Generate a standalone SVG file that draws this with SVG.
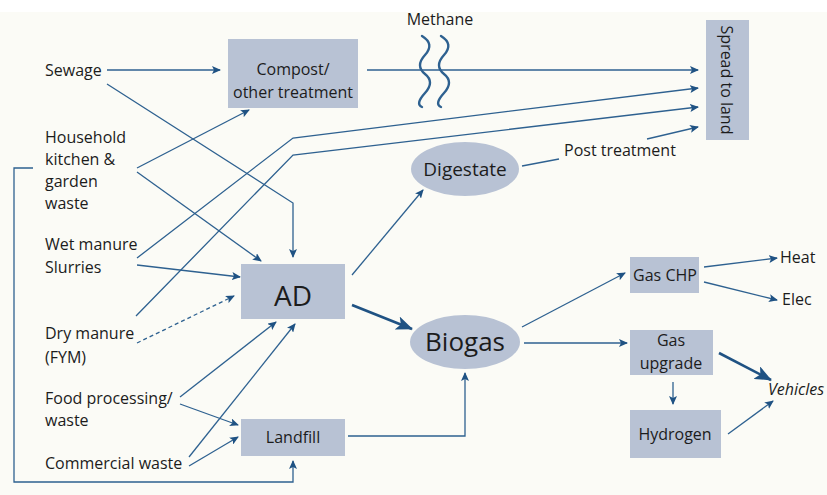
<svg xmlns="http://www.w3.org/2000/svg" width="827" height="495" viewBox="0 0 827 495">
<style>
text{font-family:"Open Sans","Noto Sans","Liberation Sans",sans-serif;fill:#1c1c1c;}
.t{font-size:16px;}
.box{fill:#b8c2d4;}
.ln{fill:none;stroke:#2e6190;stroke-width:1.3;}
.arr{marker-end:url(#ah);}
.thick{fill:none;stroke:#1f5283;stroke-width:2.6;marker-end:url(#big);}
.sq{fill:none;stroke:#2e6190;stroke-width:2.4;stroke-linecap:round;}
</style>
<defs>
<marker id="ah" markerUnits="userSpaceOnUse" markerWidth="10" markerHeight="8" refX="8" refY="4" orient="auto">
<path d="M0,0 L9,4 L0,8 L2,4 Z" fill="#1f5283"/>
</marker>
<marker id="big" markerUnits="userSpaceOnUse" markerWidth="18" markerHeight="14" refX="16" refY="7" orient="auto">
<path d="M0,0 L17,7 L0,14 L4,7 Z" fill="#1f5283"/>
</marker>
</defs>
<rect x="0" y="0" width="827" height="495" fill="#ffffff"/>
<rect x="0" y="12" width="827" height="483" fill="#fbfbf6"/>

<g id="connectors">
<path class="ln arr" d="M107,70 L220,70"/>
<path class="ln arr" d="M107,84 L293,203 L293,257"/>
<path class="ln arr" d="M137,168 L249,110"/>
<path class="ln arr" d="M137,172 L261,261"/>
<path class="ln arr" d="M137,258 L293,138 L698,88"/>
<path class="ln arr" d="M137,265 L240,277"/>
<path class="ln arr" d="M136,316 L293,155 L698,107"/>
<path class="ln arr" d="M137,343 L234,296" stroke-dasharray="4,3"/>
<path class="ln arr" d="M180,397 L276,322"/>
<path class="ln arr" d="M180,404 L238,425"/>
<path class="ln arr" d="M189,457 L295,324"/>
<path class="ln arr" d="M189,466 L238,437"/>
<path class="ln arr" d="M33,168 L14,168 L14,482 L293,482 L293,461"/>
<path class="ln arr" d="M367,70 L698,70"/>
<path class="ln arr" d="M352,275 L423,190"/>
<path class="thick" d="M352,305 L412,329"/>
<path class="ln arr" d="M348,436 L465,436 L465,373"/>
<path class="ln" d="M522,166 L559,159"/>
<path class="ln arr" d="M647,139 L698,127"/>
<path class="ln arr" d="M522,327 L625,273"/>
<path class="ln arr" d="M704,267 L777,258"/>
<path class="ln arr" d="M704,282 L777,300"/>
<path class="ln arr" d="M524,343 L627,343"/>
<path class="thick" d="M719,353 L771,380"/>
<path class="ln arr" d="M673,382 L673,404"/>
<path class="ln arr" d="M728,434 L773,401"/>
<path class="sq" d="M422,36 Q435,44 425,55 T425,74 T425,93 T422,107"/>
<path class="sq" d="M441,36 Q454,44 444,55 T444,74 T444,93 T441,107"/>
</g>

<g id="sewage"><text class="t" x="45" y="76">Sewage</text></g>
<g id="household"><text class="t" x="45" y="143">Household</text><text class="t" x="45" y="165">kitchen &amp;</text><text class="t" x="45" y="187">garden</text><text class="t" x="45" y="209">waste</text></g>
<g id="wetmanure"><text class="t" x="45" y="250">Wet manure</text><text class="t" x="45" y="273">Slurries</text></g>
<g id="drymanure"><text class="t" x="45" y="339">Dry manure</text><text class="t" x="45" y="363">(FYM)</text></g>
<g id="food"><text class="t" x="45" y="404">Food processing/</text><text class="t" x="45" y="426">waste</text></g>
<g id="commercial"><text class="t" x="45" y="469">Commercial waste</text></g>

<g id="compost"><rect class="box" x="228" y="39" width="130" height="69"/>
<text class="t" x="293" y="75" text-anchor="middle">Compost/</text><text class="t" x="293" y="98" text-anchor="middle">other treatment</text></g>
<g id="methane"><text class="t" x="440" y="25" text-anchor="middle">Methane</text></g>
<g id="spread"><rect class="box" x="706" y="20" width="43" height="120"/>
<text class="t" x="727" y="80" text-anchor="middle" dominant-baseline="central" transform="rotate(90 727 80)">Spread to land</text></g>
<g id="ad"><rect class="box" x="241" y="264" width="104" height="55"/>
<text x="293" y="306" text-anchor="middle" font-size="28">AD</text></g>
<g id="landfill"><rect class="box" x="241" y="419" width="104" height="37"/>
<text class="t" x="293" y="443" text-anchor="middle">Landfill</text></g>
<g id="digestate"><ellipse cx="465" cy="169" rx="54" ry="27" fill="#b8c2d4"/>
<text x="465" y="176" text-anchor="middle" font-size="19">Digestate</text></g>
<g id="posttreatment"><text class="t" x="564" y="156">Post treatment</text></g>
<g id="biogas"><ellipse cx="465" cy="342" rx="55" ry="27" fill="#b8c2d4"/>
<text x="465" y="351" text-anchor="middle" font-size="26">Biogas</text></g>
<g id="gaschp"><rect class="box" x="630" y="257" width="69" height="36"/>
<text class="t" x="665" y="281" text-anchor="middle">Gas CHP</text></g>
<g id="heat"><text class="t" x="780" y="263">Heat</text></g>
<g id="elec"><text class="t" x="782" y="305">Elec</text></g>
<g id="gasupgrade"><rect class="box" x="630" y="330" width="83" height="45"/>
<text class="t" x="671" y="346" text-anchor="middle">Gas</text><text class="t" x="671" y="369" text-anchor="middle">upgrade</text></g>
<g id="vehicles"><text class="t" x="768" y="395" font-style="italic">Vehicles</text></g>
<g id="hydrogen"><rect class="box" x="630" y="410" width="91" height="48"/>
<text class="t" x="675" y="440" text-anchor="middle">Hydrogen</text></g>
</svg>
